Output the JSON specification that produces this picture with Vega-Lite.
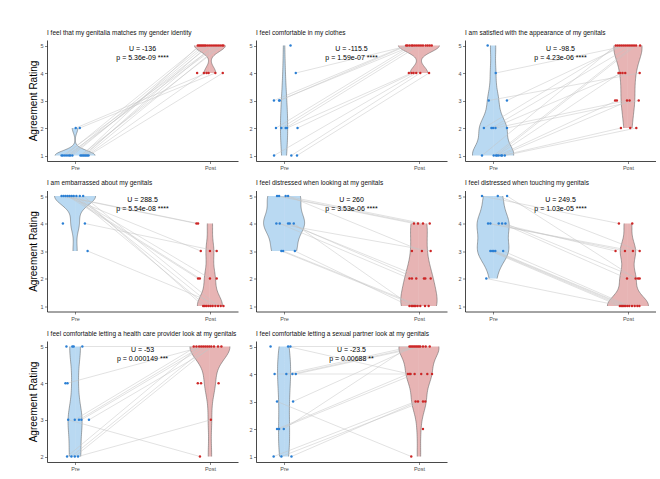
{
"$schema":"https://vega.github.io/schema/vega-lite/v6.json",
"padding":{"left":28,"top":29,"right":0,"bottom":0},
"datasets":{
"pts":[
{"q":1,"id":1,"g":"Pre","x":0.91,"r":1},{"q":1,"id":2,"g":"Pre","x":0.925,"r":1},{"q":1,"id":3,"g":"Pre","x":0.94,"r":1},{"q":1,"id":4,"g":"Pre","x":0.955,"r":1},{"q":1,"id":5,"g":"Pre","x":0.965,"r":1},{"q":1,"id":6,"g":"Pre","x":0.98,"r":1},{"q":1,"id":7,"g":"Pre","x":1.04,"r":1},{"q":1,"id":8,"g":"Pre","x":1.05,"r":1},{"q":1,"id":9,"g":"Pre","x":1.06,"r":1},{"q":1,"id":10,"g":"Pre","x":1.07,"r":1},{"q":1,"id":11,"g":"Pre","x":1.08,"r":1},{"q":1,"id":12,"g":"Pre","x":1.09,"r":1},{"q":1,"id":13,"g":"Pre","x":1.005,"r":2},{"q":1,"id":14,"g":"Pre","x":1.035,"r":2},{"q":1,"id":15,"g":"Pre","x":1.1,"r":1},{"q":1,"id":16,"g":"Pre","x":0.9,"r":1},
{"q":1,"id":1,"g":"Post","x":2.045,"r":5},{"q":1,"id":2,"g":"Post","x":1.93,"r":5},{"q":1,"id":3,"g":"Post","x":2.06,"r":5},{"q":1,"id":4,"g":"Post","x":1.95,"r":5},{"q":1,"id":5,"g":"Post","x":2.0,"r":5},{"q":1,"id":6,"g":"Post","x":1.97,"r":5},{"q":1,"id":7,"g":"Post","x":2.09,"r":5},{"q":1,"id":8,"g":"Post","x":1.92,"r":5},{"q":1,"id":9,"g":"Post","x":2.03,"r":5},{"q":1,"id":10,"g":"Post","x":1.985,"r":5},{"q":1,"id":11,"g":"Post","x":2.075,"r":5},{"q":1,"id":17,"g":"Post","x":1.91,"r":5},{"q":1,"id":18,"g":"Post","x":1.94,"r":5},{"q":1,"id":19,"g":"Post","x":1.96,"r":5},{"q":1,"id":20,"g":"Post","x":2.015,"r":5},{"q":1,"id":21,"g":"Post","x":2.1,"r":5},
{"q":1,"id":12,"g":"Post","x":1.955,"r":4},{"q":1,"id":13,"g":"Post","x":1.975,"r":4},{"q":1,"id":14,"g":"Post","x":2.04,"r":4},{"q":1,"id":15,"g":"Post","x":2.095,"r":4},{"q":1,"id":22,"g":"Post","x":1.905,"r":4},{"q":1,"id":23,"g":"Post","x":1.99,"r":4},
{"q":2,"id":20,"g":"Pre","x":1.048,"r":5},{"q":2,"id":1,"g":"Pre","x":1.087,"r":4},{"q":2,"id":2,"g":"Pre","x":0.925,"r":3},{"q":2,"id":3,"g":"Pre","x":0.963,"r":3},{"q":2,"id":4,"g":"Pre","x":0.968,"r":3},{"q":2,"id":5,"g":"Pre","x":0.94,"r":2},{"q":2,"id":6,"g":"Pre","x":0.98,"r":2},{"q":2,"id":7,"g":"Pre","x":1.012,"r":2},{"q":2,"id":8,"g":"Pre","x":1.022,"r":2},{"q":2,"id":9,"g":"Pre","x":1.1,"r":2},{"q":2,"id":10,"g":"Pre","x":0.926,"r":1},{"q":2,"id":11,"g":"Pre","x":1.054,"r":1},{"q":2,"id":12,"g":"Pre","x":1.096,"r":1},
{"q":2,"id":1,"g":"Post","x":1.93,"r":5},{"q":2,"id":2,"g":"Post","x":1.905,"r":5},{"q":2,"id":3,"g":"Post","x":1.955,"r":5},{"q":2,"id":4,"g":"Post","x":1.915,"r":5},{"q":2,"id":5,"g":"Post","x":1.945,"r":5},{"q":2,"id":6,"g":"Post","x":1.97,"r":5},{"q":2,"id":7,"g":"Post","x":2.0,"r":5},{"q":2,"id":22,"g":"Post","x":1.985,"r":5},{"q":2,"id":23,"g":"Post","x":2.015,"r":5},{"q":2,"id":24,"g":"Post","x":2.03,"r":5},{"q":2,"id":25,"g":"Post","x":2.05,"r":5},{"q":2,"id":26,"g":"Post","x":2.065,"r":5},{"q":2,"id":27,"g":"Post","x":2.08,"r":5},{"q":2,"id":28,"g":"Post","x":2.095,"r":5},
{"q":2,"id":8,"g":"Post","x":1.945,"r":4},{"q":2,"id":9,"g":"Post","x":1.96,"r":4},{"q":2,"id":10,"g":"Post","x":1.98,"r":4},{"q":2,"id":11,"g":"Post","x":2.01,"r":4},{"q":2,"id":12,"g":"Post","x":2.075,"r":4},{"q":2,"id":21,"g":"Post","x":1.925,"r":4},
{"q":3,"id":20,"g":"Pre","x":0.96,"r":5},{"q":3,"id":1,"g":"Pre","x":1.02,"r":4},{"q":3,"id":2,"g":"Pre","x":0.968,"r":3},{"q":3,"id":3,"g":"Pre","x":1.103,"r":3},{"q":3,"id":4,"g":"Pre","x":0.932,"r":2},{"q":3,"id":5,"g":"Pre","x":0.988,"r":2},{"q":3,"id":6,"g":"Pre","x":1.0,"r":2},{"q":3,"id":7,"g":"Pre","x":1.018,"r":2},{"q":3,"id":8,"g":"Pre","x":1.103,"r":2},{"q":3,"id":9,"g":"Pre","x":0.918,"r":1},{"q":3,"id":10,"g":"Pre","x":1.005,"r":1},{"q":3,"id":11,"g":"Pre","x":1.022,"r":1},{"q":3,"id":12,"g":"Pre","x":1.03,"r":1},{"q":3,"id":13,"g":"Pre","x":1.042,"r":1},{"q":3,"id":14,"g":"Pre","x":1.06,"r":1},{"q":3,"id":15,"g":"Pre","x":1.067,"r":1},{"q":3,"id":16,"g":"Pre","x":1.087,"r":1},
{"q":3,"id":1,"g":"Post","x":2.0,"r":5},{"q":3,"id":3,"g":"Post","x":1.97,"r":5},{"q":3,"id":4,"g":"Post","x":1.94,"r":5},{"q":3,"id":5,"g":"Post","x":2.03,"r":5},{"q":3,"id":9,"g":"Post","x":1.91,"r":5},{"q":3,"id":10,"g":"Post","x":2.045,"r":5},{"q":3,"id":11,"g":"Post","x":2.06,"r":5},{"q":3,"id":30,"g":"Post","x":1.925,"r":5},{"q":3,"id":31,"g":"Post","x":1.955,"r":5},{"q":3,"id":32,"g":"Post","x":1.985,"r":5},{"q":3,"id":33,"g":"Post","x":2.015,"r":5},{"q":3,"id":34,"g":"Post","x":2.09,"r":5},
{"q":3,"id":2,"g":"Post","x":2.087,"r":4},{"q":3,"id":6,"g":"Post","x":1.96,"r":4},{"q":3,"id":12,"g":"Post","x":1.943,"r":4},{"q":3,"id":35,"g":"Post","x":1.93,"r":4},{"q":3,"id":36,"g":"Post","x":1.98,"r":4},
{"q":3,"id":7,"g":"Post","x":1.993,"r":3},{"q":3,"id":8,"g":"Post","x":2.08,"r":3},{"q":3,"id":13,"g":"Post","x":1.918,"r":3},{"q":3,"id":14,"g":"Post","x":2.012,"r":3},{"q":3,"id":37,"g":"Post","x":1.905,"r":3},
{"q":3,"id":15,"g":"Post","x":1.948,"r":2},{"q":3,"id":16,"g":"Post","x":2.062,"r":2},{"q":3,"id":39,"g":"Post","x":2.017,"r":2},
{"q":4,"id":1,"g":"Pre","x":0.9,"r":5},{"q":4,"id":2,"g":"Pre","x":0.915,"r":5},{"q":4,"id":3,"g":"Pre","x":0.93,"r":5},{"q":4,"id":4,"g":"Pre","x":0.945,"r":5},{"q":4,"id":5,"g":"Pre","x":0.96,"r":5},{"q":4,"id":6,"g":"Pre","x":0.975,"r":5},{"q":4,"id":7,"g":"Pre","x":0.99,"r":5},{"q":4,"id":8,"g":"Pre","x":1.01,"r":5},{"q":4,"id":9,"g":"Pre","x":1.035,"r":5},{"q":4,"id":10,"g":"Pre","x":1.06,"r":5},{"q":4,"id":11,"g":"Pre","x":0.91,"r":4},{"q":4,"id":12,"g":"Pre","x":1.073,"r":4},{"q":4,"id":13,"g":"Pre","x":1.093,"r":3},
{"q":4,"id":1,"g":"Post","x":1.9,"r":4},{"q":4,"id":2,"g":"Post","x":1.912,"r":4},
{"q":4,"id":3,"g":"Post","x":1.932,"r":3},{"q":4,"id":12,"g":"Post","x":2.05,"r":3},{"q":4,"id":20,"g":"Post","x":2.0,"r":3},
{"q":4,"id":4,"g":"Post","x":1.912,"r":2},{"q":4,"id":5,"g":"Post","x":1.925,"r":2},{"q":4,"id":6,"g":"Post","x":2.0,"r":2},{"q":4,"id":21,"g":"Post","x":2.05,"r":2},
{"q":4,"id":7,"g":"Post","x":1.975,"r":1},{"q":4,"id":8,"g":"Post","x":2.02,"r":1},{"q":4,"id":9,"g":"Post","x":1.95,"r":1},{"q":4,"id":10,"g":"Post","x":2.06,"r":1},{"q":4,"id":13,"g":"Post","x":2.08,"r":1},{"q":4,"id":22,"g":"Post","x":1.962,"r":1},{"q":4,"id":23,"g":"Post","x":1.99,"r":1},{"q":4,"id":24,"g":"Post","x":2.005,"r":1},{"q":4,"id":25,"g":"Post","x":2.04,"r":1},{"q":4,"id":26,"g":"Post","x":2.1,"r":1},
{"q":5,"id":1,"g":"Pre","x":0.948,"r":5},{"q":5,"id":2,"g":"Pre","x":0.963,"r":5},{"q":5,"id":3,"g":"Pre","x":1.012,"r":5},{"q":5,"id":4,"g":"Pre","x":1.03,"r":5},{"q":5,"id":5,"g":"Pre","x":0.943,"r":4},{"q":5,"id":6,"g":"Pre","x":0.968,"r":4},{"q":5,"id":7,"g":"Pre","x":1.03,"r":4},{"q":5,"id":8,"g":"Pre","x":1.042,"r":4},{"q":5,"id":9,"g":"Pre","x":1.072,"r":4},{"q":5,"id":10,"g":"Pre","x":0.98,"r":3},{"q":5,"id":11,"g":"Pre","x":0.993,"r":3},{"q":5,"id":12,"g":"Pre","x":1.08,"r":3},
{"q":5,"id":1,"g":"Post","x":1.963,"r":4},{"q":5,"id":2,"g":"Post","x":1.993,"r":4},{"q":5,"id":3,"g":"Post","x":2.03,"r":4},{"q":5,"id":20,"g":"Post","x":2.08,"r":4},
{"q":5,"id":4,"g":"Post","x":2.022,"r":3},{"q":5,"id":5,"g":"Post","x":2.087,"r":3},{"q":5,"id":21,"g":"Post","x":1.948,"r":3},
{"q":5,"id":6,"g":"Post","x":1.93,"r":2},{"q":5,"id":7,"g":"Post","x":2.037,"r":2},{"q":5,"id":8,"g":"Post","x":1.98,"r":2},{"q":5,"id":22,"g":"Post","x":1.948,"r":2},{"q":5,"id":23,"g":"Post","x":2.047,"r":2},{"q":5,"id":24,"g":"Post","x":2.087,"r":2},
{"q":5,"id":9,"g":"Post","x":1.945,"r":1},{"q":5,"id":10,"g":"Post","x":1.99,"r":1},{"q":5,"id":11,"g":"Post","x":2.01,"r":1},{"q":5,"id":12,"g":"Post","x":1.93,"r":1},{"q":5,"id":25,"g":"Post","x":1.955,"r":1},{"q":5,"id":26,"g":"Post","x":1.965,"r":1},{"q":5,"id":27,"g":"Post","x":1.975,"r":1},{"q":5,"id":28,"g":"Post","x":2.045,"r":1},{"q":5,"id":29,"g":"Post","x":2.072,"r":1},
{"q":6,"id":1,"g":"Pre","x":0.918,"r":5},{"q":6,"id":2,"g":"Pre","x":1.035,"r":5},{"q":6,"id":3,"g":"Pre","x":1.104,"r":5},{"q":6,"id":4,"g":"Pre","x":0.963,"r":4},{"q":6,"id":5,"g":"Pre","x":0.98,"r":4},{"q":6,"id":6,"g":"Pre","x":1.042,"r":4},{"q":6,"id":7,"g":"Pre","x":1.067,"r":4},{"q":6,"id":8,"g":"Pre","x":1.092,"r":4},{"q":6,"id":9,"g":"Pre","x":0.98,"r":3},{"q":6,"id":10,"g":"Pre","x":0.993,"r":3},{"q":6,"id":11,"g":"Pre","x":1.005,"r":3},{"q":6,"id":12,"g":"Pre","x":1.017,"r":3},{"q":6,"id":13,"g":"Pre","x":1.075,"r":3},{"q":6,"id":14,"g":"Pre","x":0.95,"r":2},
{"q":6,"id":1,"g":"Post","x":1.933,"r":4},{"q":6,"id":20,"g":"Post","x":2.032,"r":4},
{"q":6,"id":2,"g":"Post","x":2.087,"r":3},{"q":6,"id":4,"g":"Post","x":2.037,"r":3},{"q":6,"id":5,"g":"Post","x":1.978,"r":3},{"q":6,"id":6,"g":"Post","x":1.908,"r":3},
{"q":6,"id":3,"g":"Post","x":2.057,"r":2},{"q":6,"id":7,"g":"Post","x":1.993,"r":2},{"q":6,"id":8,"g":"Post","x":2.075,"r":2},{"q":6,"id":21,"g":"Post","x":2.087,"r":2},
{"q":6,"id":9,"g":"Post","x":1.94,"r":1},{"q":6,"id":10,"g":"Post","x":1.96,"r":1},{"q":6,"id":11,"g":"Post","x":1.98,"r":1},{"q":6,"id":12,"g":"Post","x":1.995,"r":1},{"q":6,"id":13,"g":"Post","x":2.01,"r":1},{"q":6,"id":14,"g":"Post","x":1.95,"r":1},{"q":6,"id":22,"g":"Post","x":1.97,"r":1},{"q":6,"id":23,"g":"Post","x":2.03,"r":1},{"q":6,"id":24,"g":"Post","x":2.05,"r":1},{"q":6,"id":25,"g":"Post","x":2.07,"r":1},{"q":6,"id":26,"g":"Post","x":2.085,"r":1},
{"q":7,"id":1,"g":"Pre","x":0.936,"r":5},{"q":7,"id":2,"g":"Pre","x":0.98,"r":5},{"q":7,"id":3,"g":"Pre","x":0.99,"r":5},{"q":7,"id":4,"g":"Pre","x":1.054,"r":5},{"q":7,"id":5,"g":"Pre","x":0.929,"r":4},{"q":7,"id":6,"g":"Pre","x":0.944,"r":4},{"q":7,"id":7,"g":"Pre","x":0.949,"r":3},{"q":7,"id":8,"g":"Pre","x":0.998,"r":3},{"q":7,"id":9,"g":"Pre","x":1.029,"r":3},{"q":7,"id":10,"g":"Pre","x":1.047,"r":3},{"q":7,"id":11,"g":"Pre","x":1.103,"r":3},{"q":7,"id":12,"g":"Pre","x":0.941,"r":2},{"q":7,"id":13,"g":"Pre","x":0.973,"r":2},{"q":7,"id":14,"g":"Pre","x":0.998,"r":2},{"q":7,"id":15,"g":"Pre","x":1.022,"r":2},
{"q":7,"id":4,"g":"Post","x":2.085,"r":5},{"q":7,"id":6,"g":"Post","x":1.95,"r":5},{"q":7,"id":8,"g":"Post","x":1.9,"r":5},{"q":7,"id":9,"g":"Post","x":1.935,"r":5},{"q":7,"id":10,"g":"Post","x":1.965,"r":5},{"q":7,"id":11,"g":"Post","x":2.03,"r":5},{"q":7,"id":12,"g":"Post","x":1.92,"r":5},{"q":7,"id":13,"g":"Post","x":1.98,"r":5},{"q":7,"id":14,"g":"Post","x":2.01,"r":5},{"q":7,"id":20,"g":"Post","x":1.88,"r":5},{"q":7,"id":21,"g":"Post","x":1.995,"r":5},{"q":7,"id":22,"g":"Post","x":2.06,"r":5},
{"q":7,"id":23,"g":"Post","x":1.91,"r":4},{"q":7,"id":24,"g":"Post","x":1.934,"r":4},{"q":7,"id":25,"g":"Post","x":2.064,"r":4},
{"q":7,"id":15,"g":"Post","x":2.007,"r":3},{"q":7,"id":7,"g":"Post","x":1.926,"r":2},
{"q":8,"id":1,"g":"Pre","x":0.9,"r":5},{"q":8,"id":2,"g":"Pre","x":1.03,"r":5},{"q":8,"id":3,"g":"Pre","x":1.047,"r":5},{"q":8,"id":4,"g":"Pre","x":0.93,"r":4},{"q":8,"id":5,"g":"Pre","x":1.017,"r":4},{"q":8,"id":6,"g":"Pre","x":1.062,"r":4},{"q":8,"id":7,"g":"Pre","x":1.087,"r":4},{"q":8,"id":8,"g":"Pre","x":0.948,"r":3},{"q":8,"id":9,"g":"Pre","x":1.067,"r":3},{"q":8,"id":10,"g":"Pre","x":0.948,"r":2},{"q":8,"id":11,"g":"Pre","x":0.963,"r":2},{"q":8,"id":12,"g":"Pre","x":0.998,"r":2},{"q":8,"id":13,"g":"Pre","x":0.923,"r":1},{"q":8,"id":14,"g":"Pre","x":0.98,"r":1},{"q":8,"id":15,"g":"Pre","x":1.055,"r":1},
{"q":8,"id":3,"g":"Post","x":2.08,"r":5},{"q":8,"id":5,"g":"Post","x":1.95,"r":5},{"q":8,"id":6,"g":"Post","x":2.0,"r":5},{"q":8,"id":7,"g":"Post","x":2.03,"r":5},{"q":8,"id":9,"g":"Post","x":1.97,"r":5},{"q":8,"id":12,"g":"Post","x":1.93,"r":5},{"q":8,"id":20,"g":"Post","x":1.94,"r":5},{"q":8,"id":21,"g":"Post","x":1.96,"r":5},{"q":8,"id":22,"g":"Post","x":1.98,"r":5},{"q":8,"id":23,"g":"Post","x":1.99,"r":5},{"q":8,"id":24,"g":"Post","x":2.01,"r":5},{"q":8,"id":25,"g":"Post","x":2.05,"r":5},
{"q":8,"id":2,"g":"Post","x":1.93,"r":4},{"q":8,"id":4,"g":"Post","x":2.062,"r":4},{"q":8,"id":10,"g":"Post","x":1.918,"r":4},{"q":8,"id":11,"g":"Post","x":1.968,"r":4},{"q":8,"id":26,"g":"Post","x":1.938,"r":4},{"q":8,"id":27,"g":"Post","x":2.017,"r":4},{"q":8,"id":28,"g":"Post","x":2.097,"r":4},
{"q":8,"id":13,"g":"Post","x":1.975,"r":3},{"q":8,"id":14,"g":"Post","x":2.03,"r":3},{"q":8,"id":15,"g":"Post","x":1.993,"r":3},{"q":8,"id":30,"g":"Post","x":2.047,"r":3},
{"q":8,"id":31,"g":"Post","x":2.03,"r":2},{"q":8,"id":8,"g":"Post","x":1.943,"r":1}
],
"ann":[
{"q":1,"lab":"U = -136\np = 5.36e-09 ****"},
{"q":2,"lab":"U = -115.5\np = 1.59e-07 ****"},
{"q":3,"lab":"U = -98.5\np = 4.23e-06 ****"},
{"q":4,"lab":"U = 288.5\np = 5.54e-08 ****"},
{"q":5,"lab":"U = 260\np = 3.53e-06 ****"},
{"q":6,"lab":"U = 249.5\np = 1.03e-05 ****"},
{"q":7,"lab":"U = -53\np = 0.000149 ***"},
{"q":8,"lab":"U = -23.5\np = 0.00688 **"}
]
},
"data":{"name":"pts"},
"columns":3,
"spacing":{"row":29.5,"column":18},
"bounds":"flush",
"resolve":{"scale":{"x":"independent","y":"independent"}},
"concat":[
{"width":191,"height":121,"title":"I feel that my genitalia matches my gender identity","resolve":{"scale":{"x":"independent"}},"layer":[
{"transform":[{"filter":"datum.q==1 && datum.g=='Pre'"},{"density":"r","bandwidth":0.176,"extent":[1,2],"steps":60,"as":["r","density"]}],"mark":{"type":"area","orient":"horizontal","color":"#b9d9f2"},"encoding":{"x":{"field":"density","type":"quantitative","stack":null,"axis":null,"scale":{"domain":[-2.784,16.156],"nice":false,"zero":false}},"y":{"field":"r","type":"quantitative","scale":{"domain":[0.8,5.2],"nice":false,"zero":false},"axis":{"values":[1,2,3,4,5],"format":"d","title":"Agreement Rating"}}}},
{"transform":[{"filter":"datum.q==1 && datum.g=='Pre'"},{"density":"r","bandwidth":0.176,"extent":[1,2],"steps":60,"as":["r","density"]}],"mark":{"type":"area","orient":"horizontal","color":"#b9d9f2"},"encoding":{"x":{"field":"density","type":"quantitative","stack":null,"axis":null,"scale":{"domain":[-16.156,2.784],"nice":false,"zero":false,"reverse":true}},"y":{"field":"r","type":"quantitative","scale":{"domain":[0.8,5.2],"nice":false,"zero":false},"axis":{"values":[1,2,3,4,5],"format":"d","title":"Agreement Rating"}}}},
{"transform":[{"filter":"datum.q==1 && datum.g=='Post'"},{"density":"r","bandwidth":0.221,"extent":[4,5],"steps":60,"as":["r","density"]}],"mark":{"type":"area","orient":"horizontal","color":"#e7b4b4"},"encoding":{"x":{"field":"density","type":"quantitative","stack":null,"axis":null,"scale":{"domain":[-13.802,2.378],"nice":false,"zero":false}},"y":{"field":"r","type":"quantitative","scale":{"domain":[0.8,5.2],"nice":false,"zero":false},"axis":{"values":[1,2,3,4,5],"format":"d","title":"Agreement Rating"}}}},
{"transform":[{"filter":"datum.q==1 && datum.g=='Post'"},{"density":"r","bandwidth":0.221,"extent":[4,5],"steps":60,"as":["r","density"]}],"mark":{"type":"area","orient":"horizontal","color":"#e7b4b4"},"encoding":{"x":{"field":"density","type":"quantitative","stack":null,"axis":null,"scale":{"domain":[-2.378,13.802],"nice":false,"zero":false,"reverse":true}},"y":{"field":"r","type":"quantitative","scale":{"domain":[0.8,5.2],"nice":false,"zero":false},"axis":{"values":[1,2,3,4,5],"format":"d","title":"Agreement Rating"}}}},
{"transform":[{"filter":"datum.q==1 && datum.g=='Pre'"},{"density":"r","bandwidth":0.176,"extent":[1,2],"steps":60,"as":["r","density"]}],"mark":{"type":"line","color":"#555555","strokeWidth":0.5},"encoding":{"x":{"field":"density","type":"quantitative","axis":null,"scale":{"domain":[-2.784,16.156],"nice":false,"zero":false}},"y":{"field":"r","type":"quantitative","scale":{"domain":[0.8,5.2],"nice":false,"zero":false},"axis":{"values":[1,2,3,4,5],"format":"d","title":"Agreement Rating"}},"order":{"field":"r","type":"quantitative"}}},
{"transform":[{"filter":"datum.q==1 && datum.g=='Pre'"},{"density":"r","bandwidth":0.176,"extent":[1,2],"steps":60,"as":["r","density"]}],"mark":{"type":"line","color":"#555555","strokeWidth":0.5},"encoding":{"x":{"field":"density","type":"quantitative","axis":null,"scale":{"domain":[-16.156,2.784],"nice":false,"zero":false,"reverse":true}},"y":{"field":"r","type":"quantitative","scale":{"domain":[0.8,5.2],"nice":false,"zero":false},"axis":{"values":[1,2,3,4,5],"format":"d","title":"Agreement Rating"}},"order":{"field":"r","type":"quantitative"}}},
{"transform":[{"filter":"datum.q==1 && datum.g=='Post'"},{"density":"r","bandwidth":0.221,"extent":[4,5],"steps":60,"as":["r","density"]}],"mark":{"type":"line","color":"#555555","strokeWidth":0.5},"encoding":{"x":{"field":"density","type":"quantitative","axis":null,"scale":{"domain":[-13.802,2.378],"nice":false,"zero":false}},"y":{"field":"r","type":"quantitative","scale":{"domain":[0.8,5.2],"nice":false,"zero":false},"axis":{"values":[1,2,3,4,5],"format":"d","title":"Agreement Rating"}},"order":{"field":"r","type":"quantitative"}}},
{"transform":[{"filter":"datum.q==1 && datum.g=='Post'"},{"density":"r","bandwidth":0.221,"extent":[4,5],"steps":60,"as":["r","density"]}],"mark":{"type":"line","color":"#555555","strokeWidth":0.5},"encoding":{"x":{"field":"density","type":"quantitative","axis":null,"scale":{"domain":[-2.378,13.802],"nice":false,"zero":false,"reverse":true}},"y":{"field":"r","type":"quantitative","scale":{"domain":[0.8,5.2],"nice":false,"zero":false},"axis":{"values":[1,2,3,4,5],"format":"d","title":"Agreement Rating"}},"order":{"field":"r","type":"quantitative"}}},
{"transform":[{"filter":"datum.q==1"}],"mark":{"type":"line","color":"#c4c4c4","strokeWidth":0.5},"encoding":{"x":{"field":"x","type":"quantitative","axis":null,"scale":{"domain":[0.792,2.208],"nice":false,"zero":false}},"y":{"field":"r","type":"quantitative","scale":{"domain":[0.8,5.2],"nice":false,"zero":false},"axis":{"values":[1,2,3,4,5],"format":"d","title":"Agreement Rating"}},"detail":{"field":"id","type":"nominal"}}},
{"transform":[{"filter":"datum.q==1"}],"mark":{"type":"circle","size":6,"opacity":1},"encoding":{"x":{"field":"x","type":"quantitative","scale":{"domain":[0.792,2.208],"nice":false,"zero":false},"axis":{"values":[1,2],"labelExpr":"datum.value == 1 ? 'Pre' : 'Post'","title":null}},"y":{"field":"r","type":"quantitative","scale":{"domain":[0.8,5.2],"nice":false,"zero":false},"axis":{"values":[1,2,3,4,5],"format":"d","title":"Agreement Rating"}},"color":{"field":"g","type":"nominal","scale":{"domain":["Pre","Post"],"range":["#2a7fd4","#cd2626"]},"legend":null}}},
{"data":{"name":"ann"},"transform":[{"filter":"datum.q==1"}],"mark":{"type":"text","fontSize":7,"lineHeight":9,"lineBreak":"\n","color":"#000000"},"encoding":{"x":{"datum":1.5,"type":"quantitative","axis":null,"scale":{"domain":[0.792,2.208],"nice":false,"zero":false}},"y":{"datum":4.87,"type":"quantitative","scale":{"domain":[0.8,5.2],"nice":false,"zero":false},"axis":{"values":[1,2,3,4,5],"format":"d","title":"Agreement Rating"}},"text":{"field":"lab","type":"nominal"}}}
]},
{"width":191,"height":121,"title":"I feel comfortable in my clothes","resolve":{"scale":{"x":"independent"}},"layer":[
{"transform":[{"filter":"datum.q==2 && datum.g=='Pre'"},{"density":"r","bandwidth":0.8,"extent":[1,5],"steps":60,"as":["r","density"]}],"mark":{"type":"area","orient":"horizontal","color":"#b9d9f2"},"encoding":{"x":{"field":"density","type":"quantitative","stack":null,"axis":null,"scale":{"domain":[-2.331,13.529],"nice":false,"zero":false}},"y":{"field":"r","type":"quantitative","scale":{"domain":[0.8,5.2],"nice":false,"zero":false},"axis":{"values":[1,2,3,4,5],"format":"d","title":null}}}},
{"transform":[{"filter":"datum.q==2 && datum.g=='Pre'"},{"density":"r","bandwidth":0.8,"extent":[1,5],"steps":60,"as":["r","density"]}],"mark":{"type":"area","orient":"horizontal","color":"#b9d9f2"},"encoding":{"x":{"field":"density","type":"quantitative","stack":null,"axis":null,"scale":{"domain":[-13.529,2.331],"nice":false,"zero":false,"reverse":true}},"y":{"field":"r","type":"quantitative","scale":{"domain":[0.8,5.2],"nice":false,"zero":false},"axis":{"values":[1,2,3,4,5],"format":"d","title":null}}}},
{"transform":[{"filter":"datum.q==2 && datum.g=='Post'"},{"density":"r","bandwidth":0.232,"extent":[4,5],"steps":60,"as":["r","density"]}],"mark":{"type":"area","orient":"horizontal","color":"#e7b4b4"},"encoding":{"x":{"field":"density","type":"quantitative","stack":null,"axis":null,"scale":{"domain":[-9.571,1.649],"nice":false,"zero":false}},"y":{"field":"r","type":"quantitative","scale":{"domain":[0.8,5.2],"nice":false,"zero":false},"axis":{"values":[1,2,3,4,5],"format":"d","title":null}}}},
{"transform":[{"filter":"datum.q==2 && datum.g=='Post'"},{"density":"r","bandwidth":0.232,"extent":[4,5],"steps":60,"as":["r","density"]}],"mark":{"type":"area","orient":"horizontal","color":"#e7b4b4"},"encoding":{"x":{"field":"density","type":"quantitative","stack":null,"axis":null,"scale":{"domain":[-1.649,9.571],"nice":false,"zero":false,"reverse":true}},"y":{"field":"r","type":"quantitative","scale":{"domain":[0.8,5.2],"nice":false,"zero":false},"axis":{"values":[1,2,3,4,5],"format":"d","title":null}}}},
{"transform":[{"filter":"datum.q==2 && datum.g=='Pre'"},{"density":"r","bandwidth":0.8,"extent":[1,5],"steps":60,"as":["r","density"]}],"mark":{"type":"line","color":"#555555","strokeWidth":0.5},"encoding":{"x":{"field":"density","type":"quantitative","axis":null,"scale":{"domain":[-2.331,13.529],"nice":false,"zero":false}},"y":{"field":"r","type":"quantitative","scale":{"domain":[0.8,5.2],"nice":false,"zero":false},"axis":{"values":[1,2,3,4,5],"format":"d","title":null}},"order":{"field":"r","type":"quantitative"}}},
{"transform":[{"filter":"datum.q==2 && datum.g=='Pre'"},{"density":"r","bandwidth":0.8,"extent":[1,5],"steps":60,"as":["r","density"]}],"mark":{"type":"line","color":"#555555","strokeWidth":0.5},"encoding":{"x":{"field":"density","type":"quantitative","axis":null,"scale":{"domain":[-13.529,2.331],"nice":false,"zero":false,"reverse":true}},"y":{"field":"r","type":"quantitative","scale":{"domain":[0.8,5.2],"nice":false,"zero":false},"axis":{"values":[1,2,3,4,5],"format":"d","title":null}},"order":{"field":"r","type":"quantitative"}}},
{"transform":[{"filter":"datum.q==2 && datum.g=='Post'"},{"density":"r","bandwidth":0.232,"extent":[4,5],"steps":60,"as":["r","density"]}],"mark":{"type":"line","color":"#555555","strokeWidth":0.5},"encoding":{"x":{"field":"density","type":"quantitative","axis":null,"scale":{"domain":[-9.571,1.649],"nice":false,"zero":false}},"y":{"field":"r","type":"quantitative","scale":{"domain":[0.8,5.2],"nice":false,"zero":false},"axis":{"values":[1,2,3,4,5],"format":"d","title":null}},"order":{"field":"r","type":"quantitative"}}},
{"transform":[{"filter":"datum.q==2 && datum.g=='Post'"},{"density":"r","bandwidth":0.232,"extent":[4,5],"steps":60,"as":["r","density"]}],"mark":{"type":"line","color":"#555555","strokeWidth":0.5},"encoding":{"x":{"field":"density","type":"quantitative","axis":null,"scale":{"domain":[-1.649,9.571],"nice":false,"zero":false,"reverse":true}},"y":{"field":"r","type":"quantitative","scale":{"domain":[0.8,5.2],"nice":false,"zero":false},"axis":{"values":[1,2,3,4,5],"format":"d","title":null}},"order":{"field":"r","type":"quantitative"}}},
{"transform":[{"filter":"datum.q==2"}],"mark":{"type":"line","color":"#c4c4c4","strokeWidth":0.5},"encoding":{"x":{"field":"x","type":"quantitative","axis":null,"scale":{"domain":[0.792,2.208],"nice":false,"zero":false}},"y":{"field":"r","type":"quantitative","scale":{"domain":[0.8,5.2],"nice":false,"zero":false},"axis":{"values":[1,2,3,4,5],"format":"d","title":null}},"detail":{"field":"id","type":"nominal"}}},
{"transform":[{"filter":"datum.q==2"}],"mark":{"type":"circle","size":6,"opacity":1},"encoding":{"x":{"field":"x","type":"quantitative","scale":{"domain":[0.792,2.208],"nice":false,"zero":false},"axis":{"values":[1,2],"labelExpr":"datum.value == 1 ? 'Pre' : 'Post'","title":null}},"y":{"field":"r","type":"quantitative","scale":{"domain":[0.8,5.2],"nice":false,"zero":false},"axis":{"values":[1,2,3,4,5],"format":"d","title":null}},"color":{"field":"g","type":"nominal","scale":{"domain":["Pre","Post"],"range":["#2a7fd4","#cd2626"]},"legend":null}}},
{"data":{"name":"ann"},"transform":[{"filter":"datum.q==2"}],"mark":{"type":"text","fontSize":7,"lineHeight":9,"lineBreak":"\n","color":"#000000"},"encoding":{"x":{"datum":1.5,"type":"quantitative","axis":null,"scale":{"domain":[0.792,2.208],"nice":false,"zero":false}},"y":{"datum":4.87,"type":"quantitative","scale":{"domain":[0.8,5.2],"nice":false,"zero":false},"axis":{"values":[1,2,3,4,5],"format":"d","title":null}},"text":{"field":"lab","type":"nominal"}}}
]},
{"width":191,"height":121,"title":"I am satisfied with the appearance of my genitals","resolve":{"scale":{"x":"independent"}},"layer":[
{"transform":[{"filter":"datum.q==3 && datum.g=='Pre'"},{"density":"r","bandwidth":0.42,"extent":[1,5],"steps":60,"as":["r","density"]}],"mark":{"type":"area","orient":"horizontal","color":"#b9d9f2"},"encoding":{"x":{"field":"density","type":"quantitative","stack":null,"axis":null,"scale":{"domain":[-0.634,3.676],"nice":false,"zero":false}},"y":{"field":"r","type":"quantitative","scale":{"domain":[0.8,5.2],"nice":false,"zero":false},"axis":{"values":[1,2,3,4,5],"format":"d","title":null}}}},
{"transform":[{"filter":"datum.q==3 && datum.g=='Pre'"},{"density":"r","bandwidth":0.42,"extent":[1,5],"steps":60,"as":["r","density"]}],"mark":{"type":"area","orient":"horizontal","color":"#b9d9f2"},"encoding":{"x":{"field":"density","type":"quantitative","stack":null,"axis":null,"scale":{"domain":[-3.676,0.634],"nice":false,"zero":false,"reverse":true}},"y":{"field":"r","type":"quantitative","scale":{"domain":[0.8,5.2],"nice":false,"zero":false},"axis":{"values":[1,2,3,4,5],"format":"d","title":null}}}},
{"transform":[{"filter":"datum.q==3 && datum.g=='Post'"},{"density":"r","bandwidth":0.52,"extent":[2,5],"steps":60,"as":["r","density"]}],"mark":{"type":"area","orient":"horizontal","color":"#e7b4b4"},"encoding":{"x":{"field":"density","type":"quantitative","stack":null,"axis":null,"scale":{"domain":[-4.568,0.787],"nice":false,"zero":false}},"y":{"field":"r","type":"quantitative","scale":{"domain":[0.8,5.2],"nice":false,"zero":false},"axis":{"values":[1,2,3,4,5],"format":"d","title":null}}}},
{"transform":[{"filter":"datum.q==3 && datum.g=='Post'"},{"density":"r","bandwidth":0.52,"extent":[2,5],"steps":60,"as":["r","density"]}],"mark":{"type":"area","orient":"horizontal","color":"#e7b4b4"},"encoding":{"x":{"field":"density","type":"quantitative","stack":null,"axis":null,"scale":{"domain":[-0.787,4.568],"nice":false,"zero":false,"reverse":true}},"y":{"field":"r","type":"quantitative","scale":{"domain":[0.8,5.2],"nice":false,"zero":false},"axis":{"values":[1,2,3,4,5],"format":"d","title":null}}}},
{"transform":[{"filter":"datum.q==3 && datum.g=='Pre'"},{"density":"r","bandwidth":0.42,"extent":[1,5],"steps":60,"as":["r","density"]}],"mark":{"type":"line","color":"#555555","strokeWidth":0.5},"encoding":{"x":{"field":"density","type":"quantitative","axis":null,"scale":{"domain":[-0.634,3.676],"nice":false,"zero":false}},"y":{"field":"r","type":"quantitative","scale":{"domain":[0.8,5.2],"nice":false,"zero":false},"axis":{"values":[1,2,3,4,5],"format":"d","title":null}},"order":{"field":"r","type":"quantitative"}}},
{"transform":[{"filter":"datum.q==3 && datum.g=='Pre'"},{"density":"r","bandwidth":0.42,"extent":[1,5],"steps":60,"as":["r","density"]}],"mark":{"type":"line","color":"#555555","strokeWidth":0.5},"encoding":{"x":{"field":"density","type":"quantitative","axis":null,"scale":{"domain":[-3.676,0.634],"nice":false,"zero":false,"reverse":true}},"y":{"field":"r","type":"quantitative","scale":{"domain":[0.8,5.2],"nice":false,"zero":false},"axis":{"values":[1,2,3,4,5],"format":"d","title":null}},"order":{"field":"r","type":"quantitative"}}},
{"transform":[{"filter":"datum.q==3 && datum.g=='Post'"},{"density":"r","bandwidth":0.52,"extent":[2,5],"steps":60,"as":["r","density"]}],"mark":{"type":"line","color":"#555555","strokeWidth":0.5},"encoding":{"x":{"field":"density","type":"quantitative","axis":null,"scale":{"domain":[-4.568,0.787],"nice":false,"zero":false}},"y":{"field":"r","type":"quantitative","scale":{"domain":[0.8,5.2],"nice":false,"zero":false},"axis":{"values":[1,2,3,4,5],"format":"d","title":null}},"order":{"field":"r","type":"quantitative"}}},
{"transform":[{"filter":"datum.q==3 && datum.g=='Post'"},{"density":"r","bandwidth":0.52,"extent":[2,5],"steps":60,"as":["r","density"]}],"mark":{"type":"line","color":"#555555","strokeWidth":0.5},"encoding":{"x":{"field":"density","type":"quantitative","axis":null,"scale":{"domain":[-0.787,4.568],"nice":false,"zero":false,"reverse":true}},"y":{"field":"r","type":"quantitative","scale":{"domain":[0.8,5.2],"nice":false,"zero":false},"axis":{"values":[1,2,3,4,5],"format":"d","title":null}},"order":{"field":"r","type":"quantitative"}}},
{"transform":[{"filter":"datum.q==3"}],"mark":{"type":"line","color":"#c4c4c4","strokeWidth":0.5},"encoding":{"x":{"field":"x","type":"quantitative","axis":null,"scale":{"domain":[0.792,2.208],"nice":false,"zero":false}},"y":{"field":"r","type":"quantitative","scale":{"domain":[0.8,5.2],"nice":false,"zero":false},"axis":{"values":[1,2,3,4,5],"format":"d","title":null}},"detail":{"field":"id","type":"nominal"}}},
{"transform":[{"filter":"datum.q==3"}],"mark":{"type":"circle","size":6,"opacity":1},"encoding":{"x":{"field":"x","type":"quantitative","scale":{"domain":[0.792,2.208],"nice":false,"zero":false},"axis":{"values":[1,2],"labelExpr":"datum.value == 1 ? 'Pre' : 'Post'","title":null}},"y":{"field":"r","type":"quantitative","scale":{"domain":[0.8,5.2],"nice":false,"zero":false},"axis":{"values":[1,2,3,4,5],"format":"d","title":null}},"color":{"field":"g","type":"nominal","scale":{"domain":["Pre","Post"],"range":["#2a7fd4","#cd2626"]},"legend":null}}},
{"data":{"name":"ann"},"transform":[{"filter":"datum.q==3"}],"mark":{"type":"text","fontSize":7,"lineHeight":9,"lineBreak":"\n","color":"#000000"},"encoding":{"x":{"datum":1.5,"type":"quantitative","axis":null,"scale":{"domain":[0.792,2.208],"nice":false,"zero":false}},"y":{"datum":4.87,"type":"quantitative","scale":{"domain":[0.8,5.2],"nice":false,"zero":false},"axis":{"values":[1,2,3,4,5],"format":"d","title":null}},"text":{"field":"lab","type":"nominal"}}}
]},
{"width":191,"height":121,"title":"I am embarrassed about my genitals","resolve":{"scale":{"x":"independent"}},"layer":[
{"transform":[{"filter":"datum.q==4 && datum.g=='Pre'"},{"density":"r","bandwidth":0.339,"extent":[3,5],"steps":60,"as":["r","density"]}],"mark":{"type":"area","orient":"horizontal","color":"#b9d9f2"},"encoding":{"x":{"field":"density","type":"quantitative","stack":null,"axis":null,"scale":{"domain":[-1.242,7.208],"nice":false,"zero":false}},"y":{"field":"r","type":"quantitative","scale":{"domain":[0.8,5.2],"nice":false,"zero":false},"axis":{"values":[1,2,3,4,5],"format":"d","title":"Agreement Rating"}}}},
{"transform":[{"filter":"datum.q==4 && datum.g=='Pre'"},{"density":"r","bandwidth":0.339,"extent":[3,5],"steps":60,"as":["r","density"]}],"mark":{"type":"area","orient":"horizontal","color":"#b9d9f2"},"encoding":{"x":{"field":"density","type":"quantitative","stack":null,"axis":null,"scale":{"domain":[-7.208,1.242],"nice":false,"zero":false,"reverse":true}},"y":{"field":"r","type":"quantitative","scale":{"domain":[0.8,5.2],"nice":false,"zero":false},"axis":{"values":[1,2,3,4,5],"format":"d","title":"Agreement Rating"}}}},
{"transform":[{"filter":"datum.q==4 && datum.g=='Post'"},{"density":"r","bandwidth":0.4,"extent":[1,4],"steps":60,"as":["r","density"]}],"mark":{"type":"area","orient":"horizontal","color":"#e7b4b4"},"encoding":{"x":{"field":"density","type":"quantitative","stack":null,"axis":null,"scale":{"domain":[-6.96,1.2],"nice":false,"zero":false}},"y":{"field":"r","type":"quantitative","scale":{"domain":[0.8,5.2],"nice":false,"zero":false},"axis":{"values":[1,2,3,4,5],"format":"d","title":"Agreement Rating"}}}},
{"transform":[{"filter":"datum.q==4 && datum.g=='Post'"},{"density":"r","bandwidth":0.4,"extent":[1,4],"steps":60,"as":["r","density"]}],"mark":{"type":"area","orient":"horizontal","color":"#e7b4b4"},"encoding":{"x":{"field":"density","type":"quantitative","stack":null,"axis":null,"scale":{"domain":[-1.2,6.96],"nice":false,"zero":false,"reverse":true}},"y":{"field":"r","type":"quantitative","scale":{"domain":[0.8,5.2],"nice":false,"zero":false},"axis":{"values":[1,2,3,4,5],"format":"d","title":"Agreement Rating"}}}},
{"transform":[{"filter":"datum.q==4 && datum.g=='Pre'"},{"density":"r","bandwidth":0.339,"extent":[3,5],"steps":60,"as":["r","density"]}],"mark":{"type":"line","color":"#555555","strokeWidth":0.5},"encoding":{"x":{"field":"density","type":"quantitative","axis":null,"scale":{"domain":[-1.242,7.208],"nice":false,"zero":false}},"y":{"field":"r","type":"quantitative","scale":{"domain":[0.8,5.2],"nice":false,"zero":false},"axis":{"values":[1,2,3,4,5],"format":"d","title":"Agreement Rating"}},"order":{"field":"r","type":"quantitative"}}},
{"transform":[{"filter":"datum.q==4 && datum.g=='Pre'"},{"density":"r","bandwidth":0.339,"extent":[3,5],"steps":60,"as":["r","density"]}],"mark":{"type":"line","color":"#555555","strokeWidth":0.5},"encoding":{"x":{"field":"density","type":"quantitative","axis":null,"scale":{"domain":[-7.208,1.242],"nice":false,"zero":false,"reverse":true}},"y":{"field":"r","type":"quantitative","scale":{"domain":[0.8,5.2],"nice":false,"zero":false},"axis":{"values":[1,2,3,4,5],"format":"d","title":"Agreement Rating"}},"order":{"field":"r","type":"quantitative"}}},
{"transform":[{"filter":"datum.q==4 && datum.g=='Post'"},{"density":"r","bandwidth":0.4,"extent":[1,4],"steps":60,"as":["r","density"]}],"mark":{"type":"line","color":"#555555","strokeWidth":0.5},"encoding":{"x":{"field":"density","type":"quantitative","axis":null,"scale":{"domain":[-6.96,1.2],"nice":false,"zero":false}},"y":{"field":"r","type":"quantitative","scale":{"domain":[0.8,5.2],"nice":false,"zero":false},"axis":{"values":[1,2,3,4,5],"format":"d","title":"Agreement Rating"}},"order":{"field":"r","type":"quantitative"}}},
{"transform":[{"filter":"datum.q==4 && datum.g=='Post'"},{"density":"r","bandwidth":0.4,"extent":[1,4],"steps":60,"as":["r","density"]}],"mark":{"type":"line","color":"#555555","strokeWidth":0.5},"encoding":{"x":{"field":"density","type":"quantitative","axis":null,"scale":{"domain":[-1.2,6.96],"nice":false,"zero":false,"reverse":true}},"y":{"field":"r","type":"quantitative","scale":{"domain":[0.8,5.2],"nice":false,"zero":false},"axis":{"values":[1,2,3,4,5],"format":"d","title":"Agreement Rating"}},"order":{"field":"r","type":"quantitative"}}},
{"transform":[{"filter":"datum.q==4"}],"mark":{"type":"line","color":"#c4c4c4","strokeWidth":0.5},"encoding":{"x":{"field":"x","type":"quantitative","axis":null,"scale":{"domain":[0.792,2.208],"nice":false,"zero":false}},"y":{"field":"r","type":"quantitative","scale":{"domain":[0.8,5.2],"nice":false,"zero":false},"axis":{"values":[1,2,3,4,5],"format":"d","title":"Agreement Rating"}},"detail":{"field":"id","type":"nominal"}}},
{"transform":[{"filter":"datum.q==4"}],"mark":{"type":"circle","size":6,"opacity":1},"encoding":{"x":{"field":"x","type":"quantitative","scale":{"domain":[0.792,2.208],"nice":false,"zero":false},"axis":{"values":[1,2],"labelExpr":"datum.value == 1 ? 'Pre' : 'Post'","title":null}},"y":{"field":"r","type":"quantitative","scale":{"domain":[0.8,5.2],"nice":false,"zero":false},"axis":{"values":[1,2,3,4,5],"format":"d","title":"Agreement Rating"}},"color":{"field":"g","type":"nominal","scale":{"domain":["Pre","Post"],"range":["#2a7fd4","#cd2626"]},"legend":null}}},
{"data":{"name":"ann"},"transform":[{"filter":"datum.q==4"}],"mark":{"type":"text","fontSize":7,"lineHeight":9,"lineBreak":"\n","color":"#000000"},"encoding":{"x":{"datum":1.5,"type":"quantitative","axis":null,"scale":{"domain":[0.792,2.208],"nice":false,"zero":false}},"y":{"datum":4.87,"type":"quantitative","scale":{"domain":[0.8,5.2],"nice":false,"zero":false},"axis":{"values":[1,2,3,4,5],"format":"d","title":"Agreement Rating"}},"text":{"field":"lab","type":"nominal"}}}
]},
{"width":191,"height":121,"title":"I feel distressed when looking at my genitals","resolve":{"scale":{"x":"independent"}},"layer":[
{"transform":[{"filter":"datum.q==5 && datum.g=='Pre'"},{"density":"r","bandwidth":0.434,"extent":[3,5],"steps":60,"as":["r","density"]}],"mark":{"type":"area","orient":"horizontal","color":"#b9d9f2"},"encoding":{"x":{"field":"density","type":"quantitative","stack":null,"axis":null,"scale":{"domain":[-0.576,3.342],"nice":false,"zero":false}},"y":{"field":"r","type":"quantitative","scale":{"domain":[0.8,5.2],"nice":false,"zero":false},"axis":{"values":[1,2,3,4,5],"format":"d","title":null}}}},
{"transform":[{"filter":"datum.q==5 && datum.g=='Pre'"},{"density":"r","bandwidth":0.434,"extent":[3,5],"steps":60,"as":["r","density"]}],"mark":{"type":"area","orient":"horizontal","color":"#b9d9f2"},"encoding":{"x":{"field":"density","type":"quantitative","stack":null,"axis":null,"scale":{"domain":[-3.342,0.576],"nice":false,"zero":false,"reverse":true}},"y":{"field":"r","type":"quantitative","scale":{"domain":[0.8,5.2],"nice":false,"zero":false},"axis":{"values":[1,2,3,4,5],"format":"d","title":null}}}},
{"transform":[{"filter":"datum.q==5 && datum.g=='Post'"},{"density":"r","bandwidth":0.558,"extent":[1,4],"steps":60,"as":["r","density"]}],"mark":{"type":"area","orient":"horizontal","color":"#e7b4b4"},"encoding":{"x":{"field":"density","type":"quantitative","stack":null,"axis":null,"scale":{"domain":[-3.087,0.532],"nice":false,"zero":false}},"y":{"field":"r","type":"quantitative","scale":{"domain":[0.8,5.2],"nice":false,"zero":false},"axis":{"values":[1,2,3,4,5],"format":"d","title":null}}}},
{"transform":[{"filter":"datum.q==5 && datum.g=='Post'"},{"density":"r","bandwidth":0.558,"extent":[1,4],"steps":60,"as":["r","density"]}],"mark":{"type":"area","orient":"horizontal","color":"#e7b4b4"},"encoding":{"x":{"field":"density","type":"quantitative","stack":null,"axis":null,"scale":{"domain":[-0.532,3.087],"nice":false,"zero":false,"reverse":true}},"y":{"field":"r","type":"quantitative","scale":{"domain":[0.8,5.2],"nice":false,"zero":false},"axis":{"values":[1,2,3,4,5],"format":"d","title":null}}}},
{"transform":[{"filter":"datum.q==5 && datum.g=='Pre'"},{"density":"r","bandwidth":0.434,"extent":[3,5],"steps":60,"as":["r","density"]}],"mark":{"type":"line","color":"#555555","strokeWidth":0.5},"encoding":{"x":{"field":"density","type":"quantitative","axis":null,"scale":{"domain":[-0.576,3.342],"nice":false,"zero":false}},"y":{"field":"r","type":"quantitative","scale":{"domain":[0.8,5.2],"nice":false,"zero":false},"axis":{"values":[1,2,3,4,5],"format":"d","title":null}},"order":{"field":"r","type":"quantitative"}}},
{"transform":[{"filter":"datum.q==5 && datum.g=='Pre'"},{"density":"r","bandwidth":0.434,"extent":[3,5],"steps":60,"as":["r","density"]}],"mark":{"type":"line","color":"#555555","strokeWidth":0.5},"encoding":{"x":{"field":"density","type":"quantitative","axis":null,"scale":{"domain":[-3.342,0.576],"nice":false,"zero":false,"reverse":true}},"y":{"field":"r","type":"quantitative","scale":{"domain":[0.8,5.2],"nice":false,"zero":false},"axis":{"values":[1,2,3,4,5],"format":"d","title":null}},"order":{"field":"r","type":"quantitative"}}},
{"transform":[{"filter":"datum.q==5 && datum.g=='Post'"},{"density":"r","bandwidth":0.558,"extent":[1,4],"steps":60,"as":["r","density"]}],"mark":{"type":"line","color":"#555555","strokeWidth":0.5},"encoding":{"x":{"field":"density","type":"quantitative","axis":null,"scale":{"domain":[-3.087,0.532],"nice":false,"zero":false}},"y":{"field":"r","type":"quantitative","scale":{"domain":[0.8,5.2],"nice":false,"zero":false},"axis":{"values":[1,2,3,4,5],"format":"d","title":null}},"order":{"field":"r","type":"quantitative"}}},
{"transform":[{"filter":"datum.q==5 && datum.g=='Post'"},{"density":"r","bandwidth":0.558,"extent":[1,4],"steps":60,"as":["r","density"]}],"mark":{"type":"line","color":"#555555","strokeWidth":0.5},"encoding":{"x":{"field":"density","type":"quantitative","axis":null,"scale":{"domain":[-0.532,3.087],"nice":false,"zero":false,"reverse":true}},"y":{"field":"r","type":"quantitative","scale":{"domain":[0.8,5.2],"nice":false,"zero":false},"axis":{"values":[1,2,3,4,5],"format":"d","title":null}},"order":{"field":"r","type":"quantitative"}}},
{"transform":[{"filter":"datum.q==5"}],"mark":{"type":"line","color":"#c4c4c4","strokeWidth":0.5},"encoding":{"x":{"field":"x","type":"quantitative","axis":null,"scale":{"domain":[0.792,2.208],"nice":false,"zero":false}},"y":{"field":"r","type":"quantitative","scale":{"domain":[0.8,5.2],"nice":false,"zero":false},"axis":{"values":[1,2,3,4,5],"format":"d","title":null}},"detail":{"field":"id","type":"nominal"}}},
{"transform":[{"filter":"datum.q==5"}],"mark":{"type":"circle","size":6,"opacity":1},"encoding":{"x":{"field":"x","type":"quantitative","scale":{"domain":[0.792,2.208],"nice":false,"zero":false},"axis":{"values":[1,2],"labelExpr":"datum.value == 1 ? 'Pre' : 'Post'","title":null}},"y":{"field":"r","type":"quantitative","scale":{"domain":[0.8,5.2],"nice":false,"zero":false},"axis":{"values":[1,2,3,4,5],"format":"d","title":null}},"color":{"field":"g","type":"nominal","scale":{"domain":["Pre","Post"],"range":["#2a7fd4","#cd2626"]},"legend":null}}},
{"data":{"name":"ann"},"transform":[{"filter":"datum.q==5"}],"mark":{"type":"text","fontSize":7,"lineHeight":9,"lineBreak":"\n","color":"#000000"},"encoding":{"x":{"datum":1.5,"type":"quantitative","axis":null,"scale":{"domain":[0.792,2.208],"nice":false,"zero":false}},"y":{"datum":4.87,"type":"quantitative","scale":{"domain":[0.8,5.2],"nice":false,"zero":false},"axis":{"values":[1,2,3,4,5],"format":"d","title":null}},"text":{"field":"lab","type":"nominal"}}}
]},
{"width":191,"height":121,"title":"I feel distressed when touching my genitals","resolve":{"scale":{"x":"independent"}},"layer":[
{"transform":[{"filter":"datum.q==6 && datum.g=='Pre'"},{"density":"r","bandwidth":0.45,"extent":[2,5],"steps":60,"as":["r","density"]}],"mark":{"type":"area","orient":"horizontal","color":"#b9d9f2"},"encoding":{"x":{"field":"density","type":"quantitative","stack":null,"axis":null,"scale":{"domain":[-0.631,3.659],"nice":false,"zero":false}},"y":{"field":"r","type":"quantitative","scale":{"domain":[0.8,5.2],"nice":false,"zero":false},"axis":{"values":[1,2,3,4,5],"format":"d","title":null}}}},
{"transform":[{"filter":"datum.q==6 && datum.g=='Pre'"},{"density":"r","bandwidth":0.45,"extent":[2,5],"steps":60,"as":["r","density"]}],"mark":{"type":"area","orient":"horizontal","color":"#b9d9f2"},"encoding":{"x":{"field":"density","type":"quantitative","stack":null,"axis":null,"scale":{"domain":[-3.659,0.631],"nice":false,"zero":false,"reverse":true}},"y":{"field":"r","type":"quantitative","scale":{"domain":[0.8,5.2],"nice":false,"zero":false},"axis":{"values":[1,2,3,4,5],"format":"d","title":null}}}},
{"transform":[{"filter":"datum.q==6 && datum.g=='Post'"},{"density":"r","bandwidth":0.38,"extent":[1,4],"steps":60,"as":["r","density"]}],"mark":{"type":"area","orient":"horizontal","color":"#e7b4b4"},"encoding":{"x":{"field":"density","type":"quantitative","stack":null,"axis":null,"scale":{"domain":[-4.419,0.761],"nice":false,"zero":false}},"y":{"field":"r","type":"quantitative","scale":{"domain":[0.8,5.2],"nice":false,"zero":false},"axis":{"values":[1,2,3,4,5],"format":"d","title":null}}}},
{"transform":[{"filter":"datum.q==6 && datum.g=='Post'"},{"density":"r","bandwidth":0.38,"extent":[1,4],"steps":60,"as":["r","density"]}],"mark":{"type":"area","orient":"horizontal","color":"#e7b4b4"},"encoding":{"x":{"field":"density","type":"quantitative","stack":null,"axis":null,"scale":{"domain":[-0.761,4.419],"nice":false,"zero":false,"reverse":true}},"y":{"field":"r","type":"quantitative","scale":{"domain":[0.8,5.2],"nice":false,"zero":false},"axis":{"values":[1,2,3,4,5],"format":"d","title":null}}}},
{"transform":[{"filter":"datum.q==6 && datum.g=='Pre'"},{"density":"r","bandwidth":0.45,"extent":[2,5],"steps":60,"as":["r","density"]}],"mark":{"type":"line","color":"#555555","strokeWidth":0.5},"encoding":{"x":{"field":"density","type":"quantitative","axis":null,"scale":{"domain":[-0.631,3.659],"nice":false,"zero":false}},"y":{"field":"r","type":"quantitative","scale":{"domain":[0.8,5.2],"nice":false,"zero":false},"axis":{"values":[1,2,3,4,5],"format":"d","title":null}},"order":{"field":"r","type":"quantitative"}}},
{"transform":[{"filter":"datum.q==6 && datum.g=='Pre'"},{"density":"r","bandwidth":0.45,"extent":[2,5],"steps":60,"as":["r","density"]}],"mark":{"type":"line","color":"#555555","strokeWidth":0.5},"encoding":{"x":{"field":"density","type":"quantitative","axis":null,"scale":{"domain":[-3.659,0.631],"nice":false,"zero":false,"reverse":true}},"y":{"field":"r","type":"quantitative","scale":{"domain":[0.8,5.2],"nice":false,"zero":false},"axis":{"values":[1,2,3,4,5],"format":"d","title":null}},"order":{"field":"r","type":"quantitative"}}},
{"transform":[{"filter":"datum.q==6 && datum.g=='Post'"},{"density":"r","bandwidth":0.38,"extent":[1,4],"steps":60,"as":["r","density"]}],"mark":{"type":"line","color":"#555555","strokeWidth":0.5},"encoding":{"x":{"field":"density","type":"quantitative","axis":null,"scale":{"domain":[-4.419,0.761],"nice":false,"zero":false}},"y":{"field":"r","type":"quantitative","scale":{"domain":[0.8,5.2],"nice":false,"zero":false},"axis":{"values":[1,2,3,4,5],"format":"d","title":null}},"order":{"field":"r","type":"quantitative"}}},
{"transform":[{"filter":"datum.q==6 && datum.g=='Post'"},{"density":"r","bandwidth":0.38,"extent":[1,4],"steps":60,"as":["r","density"]}],"mark":{"type":"line","color":"#555555","strokeWidth":0.5},"encoding":{"x":{"field":"density","type":"quantitative","axis":null,"scale":{"domain":[-0.761,4.419],"nice":false,"zero":false,"reverse":true}},"y":{"field":"r","type":"quantitative","scale":{"domain":[0.8,5.2],"nice":false,"zero":false},"axis":{"values":[1,2,3,4,5],"format":"d","title":null}},"order":{"field":"r","type":"quantitative"}}},
{"transform":[{"filter":"datum.q==6"}],"mark":{"type":"line","color":"#c4c4c4","strokeWidth":0.5},"encoding":{"x":{"field":"x","type":"quantitative","axis":null,"scale":{"domain":[0.792,2.208],"nice":false,"zero":false}},"y":{"field":"r","type":"quantitative","scale":{"domain":[0.8,5.2],"nice":false,"zero":false},"axis":{"values":[1,2,3,4,5],"format":"d","title":null}},"detail":{"field":"id","type":"nominal"}}},
{"transform":[{"filter":"datum.q==6"}],"mark":{"type":"circle","size":6,"opacity":1},"encoding":{"x":{"field":"x","type":"quantitative","scale":{"domain":[0.792,2.208],"nice":false,"zero":false},"axis":{"values":[1,2],"labelExpr":"datum.value == 1 ? 'Pre' : 'Post'","title":null}},"y":{"field":"r","type":"quantitative","scale":{"domain":[0.8,5.2],"nice":false,"zero":false},"axis":{"values":[1,2,3,4,5],"format":"d","title":null}},"color":{"field":"g","type":"nominal","scale":{"domain":["Pre","Post"],"range":["#2a7fd4","#cd2626"]},"legend":null}}},
{"data":{"name":"ann"},"transform":[{"filter":"datum.q==6"}],"mark":{"type":"text","fontSize":7,"lineHeight":9,"lineBreak":"\n","color":"#000000"},"encoding":{"x":{"datum":1.5,"type":"quantitative","axis":null,"scale":{"domain":[0.792,2.208],"nice":false,"zero":false}},"y":{"datum":4.87,"type":"quantitative","scale":{"domain":[0.8,5.2],"nice":false,"zero":false},"axis":{"values":[1,2,3,4,5],"format":"d","title":null}},"text":{"field":"lab","type":"nominal"}}}
]},
{"width":191,"height":121,"title":"I feel comfortable letting a health care provider look at my genitals","resolve":{"scale":{"x":"independent"}},"layer":[
{"transform":[{"filter":"datum.q==7 && datum.g=='Pre'"},{"density":"r","bandwidth":0.45,"extent":[2,5],"steps":60,"as":["r","density"]}],"mark":{"type":"area","orient":"horizontal","color":"#b9d9f2"},"encoding":{"x":{"field":"density","type":"quantitative","stack":null,"axis":null,"scale":{"domain":[-1.305,7.575],"nice":false,"zero":false}},"y":{"field":"r","type":"quantitative","scale":{"domain":[1.85,5.15],"nice":false,"zero":false},"axis":{"values":[2,3,4,5],"format":"d","title":"Agreement Rating"}}}},
{"transform":[{"filter":"datum.q==7 && datum.g=='Pre'"},{"density":"r","bandwidth":0.45,"extent":[2,5],"steps":60,"as":["r","density"]}],"mark":{"type":"area","orient":"horizontal","color":"#b9d9f2"},"encoding":{"x":{"field":"density","type":"quantitative","stack":null,"axis":null,"scale":{"domain":[-7.575,1.305],"nice":false,"zero":false,"reverse":true}},"y":{"field":"r","type":"quantitative","scale":{"domain":[1.85,5.15],"nice":false,"zero":false},"axis":{"values":[2,3,4,5],"format":"d","title":"Agreement Rating"}}}},
{"transform":[{"filter":"datum.q==7 && datum.g=='Post'"},{"density":"r","bandwidth":0.381,"extent":[2,5],"steps":60,"as":["r","density"]}],"mark":{"type":"area","orient":"horizontal","color":"#e7b4b4"},"encoding":{"x":{"field":"density","type":"quantitative","stack":null,"axis":null,"scale":{"domain":[-6.065,1.045],"nice":false,"zero":false}},"y":{"field":"r","type":"quantitative","scale":{"domain":[1.85,5.15],"nice":false,"zero":false},"axis":{"values":[2,3,4,5],"format":"d","title":"Agreement Rating"}}}},
{"transform":[{"filter":"datum.q==7 && datum.g=='Post'"},{"density":"r","bandwidth":0.381,"extent":[2,5],"steps":60,"as":["r","density"]}],"mark":{"type":"area","orient":"horizontal","color":"#e7b4b4"},"encoding":{"x":{"field":"density","type":"quantitative","stack":null,"axis":null,"scale":{"domain":[-1.045,6.065],"nice":false,"zero":false,"reverse":true}},"y":{"field":"r","type":"quantitative","scale":{"domain":[1.85,5.15],"nice":false,"zero":false},"axis":{"values":[2,3,4,5],"format":"d","title":"Agreement Rating"}}}},
{"transform":[{"filter":"datum.q==7 && datum.g=='Pre'"},{"density":"r","bandwidth":0.45,"extent":[2,5],"steps":60,"as":["r","density"]}],"mark":{"type":"line","color":"#555555","strokeWidth":0.5},"encoding":{"x":{"field":"density","type":"quantitative","axis":null,"scale":{"domain":[-1.305,7.575],"nice":false,"zero":false}},"y":{"field":"r","type":"quantitative","scale":{"domain":[1.85,5.15],"nice":false,"zero":false},"axis":{"values":[2,3,4,5],"format":"d","title":"Agreement Rating"}},"order":{"field":"r","type":"quantitative"}}},
{"transform":[{"filter":"datum.q==7 && datum.g=='Pre'"},{"density":"r","bandwidth":0.45,"extent":[2,5],"steps":60,"as":["r","density"]}],"mark":{"type":"line","color":"#555555","strokeWidth":0.5},"encoding":{"x":{"field":"density","type":"quantitative","axis":null,"scale":{"domain":[-7.575,1.305],"nice":false,"zero":false,"reverse":true}},"y":{"field":"r","type":"quantitative","scale":{"domain":[1.85,5.15],"nice":false,"zero":false},"axis":{"values":[2,3,4,5],"format":"d","title":"Agreement Rating"}},"order":{"field":"r","type":"quantitative"}}},
{"transform":[{"filter":"datum.q==7 && datum.g=='Post'"},{"density":"r","bandwidth":0.381,"extent":[2,5],"steps":60,"as":["r","density"]}],"mark":{"type":"line","color":"#555555","strokeWidth":0.5},"encoding":{"x":{"field":"density","type":"quantitative","axis":null,"scale":{"domain":[-6.065,1.045],"nice":false,"zero":false}},"y":{"field":"r","type":"quantitative","scale":{"domain":[1.85,5.15],"nice":false,"zero":false},"axis":{"values":[2,3,4,5],"format":"d","title":"Agreement Rating"}},"order":{"field":"r","type":"quantitative"}}},
{"transform":[{"filter":"datum.q==7 && datum.g=='Post'"},{"density":"r","bandwidth":0.381,"extent":[2,5],"steps":60,"as":["r","density"]}],"mark":{"type":"line","color":"#555555","strokeWidth":0.5},"encoding":{"x":{"field":"density","type":"quantitative","axis":null,"scale":{"domain":[-1.045,6.065],"nice":false,"zero":false,"reverse":true}},"y":{"field":"r","type":"quantitative","scale":{"domain":[1.85,5.15],"nice":false,"zero":false},"axis":{"values":[2,3,4,5],"format":"d","title":"Agreement Rating"}},"order":{"field":"r","type":"quantitative"}}},
{"transform":[{"filter":"datum.q==7"}],"mark":{"type":"line","color":"#c4c4c4","strokeWidth":0.5},"encoding":{"x":{"field":"x","type":"quantitative","axis":null,"scale":{"domain":[0.792,2.208],"nice":false,"zero":false}},"y":{"field":"r","type":"quantitative","scale":{"domain":[1.85,5.15],"nice":false,"zero":false},"axis":{"values":[2,3,4,5],"format":"d","title":"Agreement Rating"}},"detail":{"field":"id","type":"nominal"}}},
{"transform":[{"filter":"datum.q==7"}],"mark":{"type":"circle","size":6,"opacity":1},"encoding":{"x":{"field":"x","type":"quantitative","scale":{"domain":[0.792,2.208],"nice":false,"zero":false},"axis":{"values":[1,2],"labelExpr":"datum.value == 1 ? 'Pre' : 'Post'","title":null}},"y":{"field":"r","type":"quantitative","scale":{"domain":[1.85,5.15],"nice":false,"zero":false},"axis":{"values":[2,3,4,5],"format":"d","title":"Agreement Rating"}},"color":{"field":"g","type":"nominal","scale":{"domain":["Pre","Post"],"range":["#2a7fd4","#cd2626"]},"legend":null}}},
{"data":{"name":"ann"},"transform":[{"filter":"datum.q==7"}],"mark":{"type":"text","fontSize":7,"lineHeight":9,"lineBreak":"\n","color":"#000000"},"encoding":{"x":{"datum":1.5,"type":"quantitative","axis":null,"scale":{"domain":[0.792,2.208],"nice":false,"zero":false}},"y":{"datum":4.9,"type":"quantitative","scale":{"domain":[1.85,5.15],"nice":false,"zero":false},"axis":{"values":[2,3,4,5],"format":"d","title":"Agreement Rating"}},"text":{"field":"lab","type":"nominal"}}}
]},
{"width":191,"height":121,"title":"I feel comfortable letting a sexual partner look at my genitals","resolve":{"scale":{"x":"independent"}},"layer":[
{"transform":[{"filter":"datum.q==8 && datum.g=='Pre'"},{"density":"r","bandwidth":0.779,"extent":[1,5],"steps":60,"as":["r","density"]}],"mark":{"type":"area","orient":"horizontal","color":"#b9d9f2"},"encoding":{"x":{"field":"density","type":"quantitative","stack":null,"axis":null,"scale":{"domain":[-0.929,5.391],"nice":false,"zero":false}},"y":{"field":"r","type":"quantitative","scale":{"domain":[0.8,5.2],"nice":false,"zero":false},"axis":{"values":[1,2,3,4,5],"format":"d","title":null}}}},
{"transform":[{"filter":"datum.q==8 && datum.g=='Pre'"},{"density":"r","bandwidth":0.779,"extent":[1,5],"steps":60,"as":["r","density"]}],"mark":{"type":"area","orient":"horizontal","color":"#b9d9f2"},"encoding":{"x":{"field":"density","type":"quantitative","stack":null,"axis":null,"scale":{"domain":[-5.391,0.929],"nice":false,"zero":false,"reverse":true}},"y":{"field":"r","type":"quantitative","scale":{"domain":[0.8,5.2],"nice":false,"zero":false},"axis":{"values":[1,2,3,4,5],"format":"d","title":null}}}},
{"transform":[{"filter":"datum.q==8 && datum.g=='Post'"},{"density":"r","bandwidth":0.44,"extent":[1,5],"steps":60,"as":["r","density"]}],"mark":{"type":"area","orient":"horizontal","color":"#e7b4b4"},"encoding":{"x":{"field":"density","type":"quantitative","stack":null,"axis":null,"scale":{"domain":[-3.711,0.639],"nice":false,"zero":false}},"y":{"field":"r","type":"quantitative","scale":{"domain":[0.8,5.2],"nice":false,"zero":false},"axis":{"values":[1,2,3,4,5],"format":"d","title":null}}}},
{"transform":[{"filter":"datum.q==8 && datum.g=='Post'"},{"density":"r","bandwidth":0.44,"extent":[1,5],"steps":60,"as":["r","density"]}],"mark":{"type":"area","orient":"horizontal","color":"#e7b4b4"},"encoding":{"x":{"field":"density","type":"quantitative","stack":null,"axis":null,"scale":{"domain":[-0.639,3.711],"nice":false,"zero":false,"reverse":true}},"y":{"field":"r","type":"quantitative","scale":{"domain":[0.8,5.2],"nice":false,"zero":false},"axis":{"values":[1,2,3,4,5],"format":"d","title":null}}}},
{"transform":[{"filter":"datum.q==8 && datum.g=='Pre'"},{"density":"r","bandwidth":0.779,"extent":[1,5],"steps":60,"as":["r","density"]}],"mark":{"type":"line","color":"#555555","strokeWidth":0.5},"encoding":{"x":{"field":"density","type":"quantitative","axis":null,"scale":{"domain":[-0.929,5.391],"nice":false,"zero":false}},"y":{"field":"r","type":"quantitative","scale":{"domain":[0.8,5.2],"nice":false,"zero":false},"axis":{"values":[1,2,3,4,5],"format":"d","title":null}},"order":{"field":"r","type":"quantitative"}}},
{"transform":[{"filter":"datum.q==8 && datum.g=='Pre'"},{"density":"r","bandwidth":0.779,"extent":[1,5],"steps":60,"as":["r","density"]}],"mark":{"type":"line","color":"#555555","strokeWidth":0.5},"encoding":{"x":{"field":"density","type":"quantitative","axis":null,"scale":{"domain":[-5.391,0.929],"nice":false,"zero":false,"reverse":true}},"y":{"field":"r","type":"quantitative","scale":{"domain":[0.8,5.2],"nice":false,"zero":false},"axis":{"values":[1,2,3,4,5],"format":"d","title":null}},"order":{"field":"r","type":"quantitative"}}},
{"transform":[{"filter":"datum.q==8 && datum.g=='Post'"},{"density":"r","bandwidth":0.44,"extent":[1,5],"steps":60,"as":["r","density"]}],"mark":{"type":"line","color":"#555555","strokeWidth":0.5},"encoding":{"x":{"field":"density","type":"quantitative","axis":null,"scale":{"domain":[-3.711,0.639],"nice":false,"zero":false}},"y":{"field":"r","type":"quantitative","scale":{"domain":[0.8,5.2],"nice":false,"zero":false},"axis":{"values":[1,2,3,4,5],"format":"d","title":null}},"order":{"field":"r","type":"quantitative"}}},
{"transform":[{"filter":"datum.q==8 && datum.g=='Post'"},{"density":"r","bandwidth":0.44,"extent":[1,5],"steps":60,"as":["r","density"]}],"mark":{"type":"line","color":"#555555","strokeWidth":0.5},"encoding":{"x":{"field":"density","type":"quantitative","axis":null,"scale":{"domain":[-0.639,3.711],"nice":false,"zero":false,"reverse":true}},"y":{"field":"r","type":"quantitative","scale":{"domain":[0.8,5.2],"nice":false,"zero":false},"axis":{"values":[1,2,3,4,5],"format":"d","title":null}},"order":{"field":"r","type":"quantitative"}}},
{"transform":[{"filter":"datum.q==8"}],"mark":{"type":"line","color":"#c4c4c4","strokeWidth":0.5},"encoding":{"x":{"field":"x","type":"quantitative","axis":null,"scale":{"domain":[0.792,2.208],"nice":false,"zero":false}},"y":{"field":"r","type":"quantitative","scale":{"domain":[0.8,5.2],"nice":false,"zero":false},"axis":{"values":[1,2,3,4,5],"format":"d","title":null}},"detail":{"field":"id","type":"nominal"}}},
{"transform":[{"filter":"datum.q==8"}],"mark":{"type":"circle","size":6,"opacity":1},"encoding":{"x":{"field":"x","type":"quantitative","scale":{"domain":[0.792,2.208],"nice":false,"zero":false},"axis":{"values":[1,2],"labelExpr":"datum.value == 1 ? 'Pre' : 'Post'","title":null}},"y":{"field":"r","type":"quantitative","scale":{"domain":[0.8,5.2],"nice":false,"zero":false},"axis":{"values":[1,2,3,4,5],"format":"d","title":null}},"color":{"field":"g","type":"nominal","scale":{"domain":["Pre","Post"],"range":["#2a7fd4","#cd2626"]},"legend":null}}},
{"data":{"name":"ann"},"transform":[{"filter":"datum.q==8"}],"mark":{"type":"text","fontSize":7,"lineHeight":9,"lineBreak":"\n","color":"#000000"},"encoding":{"x":{"datum":1.5,"type":"quantitative","axis":null,"scale":{"domain":[0.792,2.208],"nice":false,"zero":false}},"y":{"datum":4.87,"type":"quantitative","scale":{"domain":[0.8,5.2],"nice":false,"zero":false},"axis":{"values":[1,2,3,4,5],"format":"d","title":null}},"text":{"field":"lab","type":"nominal"}}}
]}
],
"config":{
"font":"Liberation Sans",
"view":{"stroke":null},
"axis":{"grid":false,"domainColor":"#1a1a1a","domainWidth":0.8,"tickColor":"#333333","tickSize":2.5,"tickWidth":0.6,"labelFontSize":5.5,"labelColor":"#4d4d4d","labelPadding":1.5,"titleFontSize":10,"titleFontWeight":"normal","titleColor":"#000000","titlePadding":1},
"axisX":{"labelPadding":2},
"title":{"anchor":"start","frame":"group","fontSize":6.5,"fontWeight":"normal","color":"#111111","offset":4}
}
}
